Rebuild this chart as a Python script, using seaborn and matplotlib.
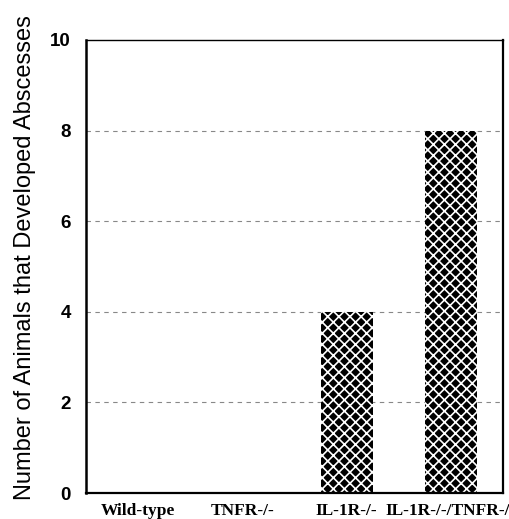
import pandas as pd
from matplotlib import pyplot as plt
import seaborn as sns

# 数据
groups = ['Wild-type', 'TNFR-/-', 'IL-1R-/-', 'IL-1R-/-/TNFR-/-']
n_abscess = [0, 0, 4, 8]
yticks = [0, 2, 4, 6, 8, 10]

df = pd.DataFrame({'group': groups, 'n': n_abscess})

sns.set_style('white')
plt.rcParams['hatch.linewidth'] = 1.2

fig = plt.figure(figsize=(5.1, 5.19), dpi=100)
ax = fig.add_axes([86/510, 26/519, 417/510, 453/519])

# 网格线（虚线）
for y in yticks[1:-1]:
    ax.axhline(y, color='#888888', linewidth=0.8, linestyle=(0, (4, 4)), zorder=0)

sns.barplot(data=df, x='group', y='n', color='black', width=0.5,
            hatch='xxx', ax=ax, zorder=2)
# 黑底白色网纹
for p in ax.patches:
    p.set_facecolor('black')
    p.set_edgecolor('white')
    p.set_linewidth(0)

ax.set_ylim(0, 10)
ax.set_xlim(-0.5, 3.5)
ax.set_yticks(yticks)
ax.set_yticklabels([str(t) for t in yticks], fontsize=13.5, fontweight='bold',
                   family='Liberation Sans', color='black')
ax.set_xticks(range(len(groups)))
ax.set_xticklabels(groups, fontsize=12.5, fontweight='bold',
                   family='Liberation Serif', color='black')
ax.tick_params(axis='y', length=0, pad=11)
ax.tick_params(axis='x', length=0, pad=7)
ax.set_xlabel('')
ax.set_ylabel('Number of Animals that Developed Abscesses', fontsize=17,
              family='Liberation Sans', color='black')
ax.yaxis.set_label_coords(-0.12, 0.519)

for s in ax.spines.values():
    s.set_visible(True)
    s.set_color('black')
ax.spines['left'].set_linewidth(1.8)
ax.spines['bottom'].set_linewidth(1.6)
ax.spines['right'].set_linewidth(1.6)
ax.spines['top'].set_linewidth(1.0)

plt.savefig('out.png', dpi=100)
